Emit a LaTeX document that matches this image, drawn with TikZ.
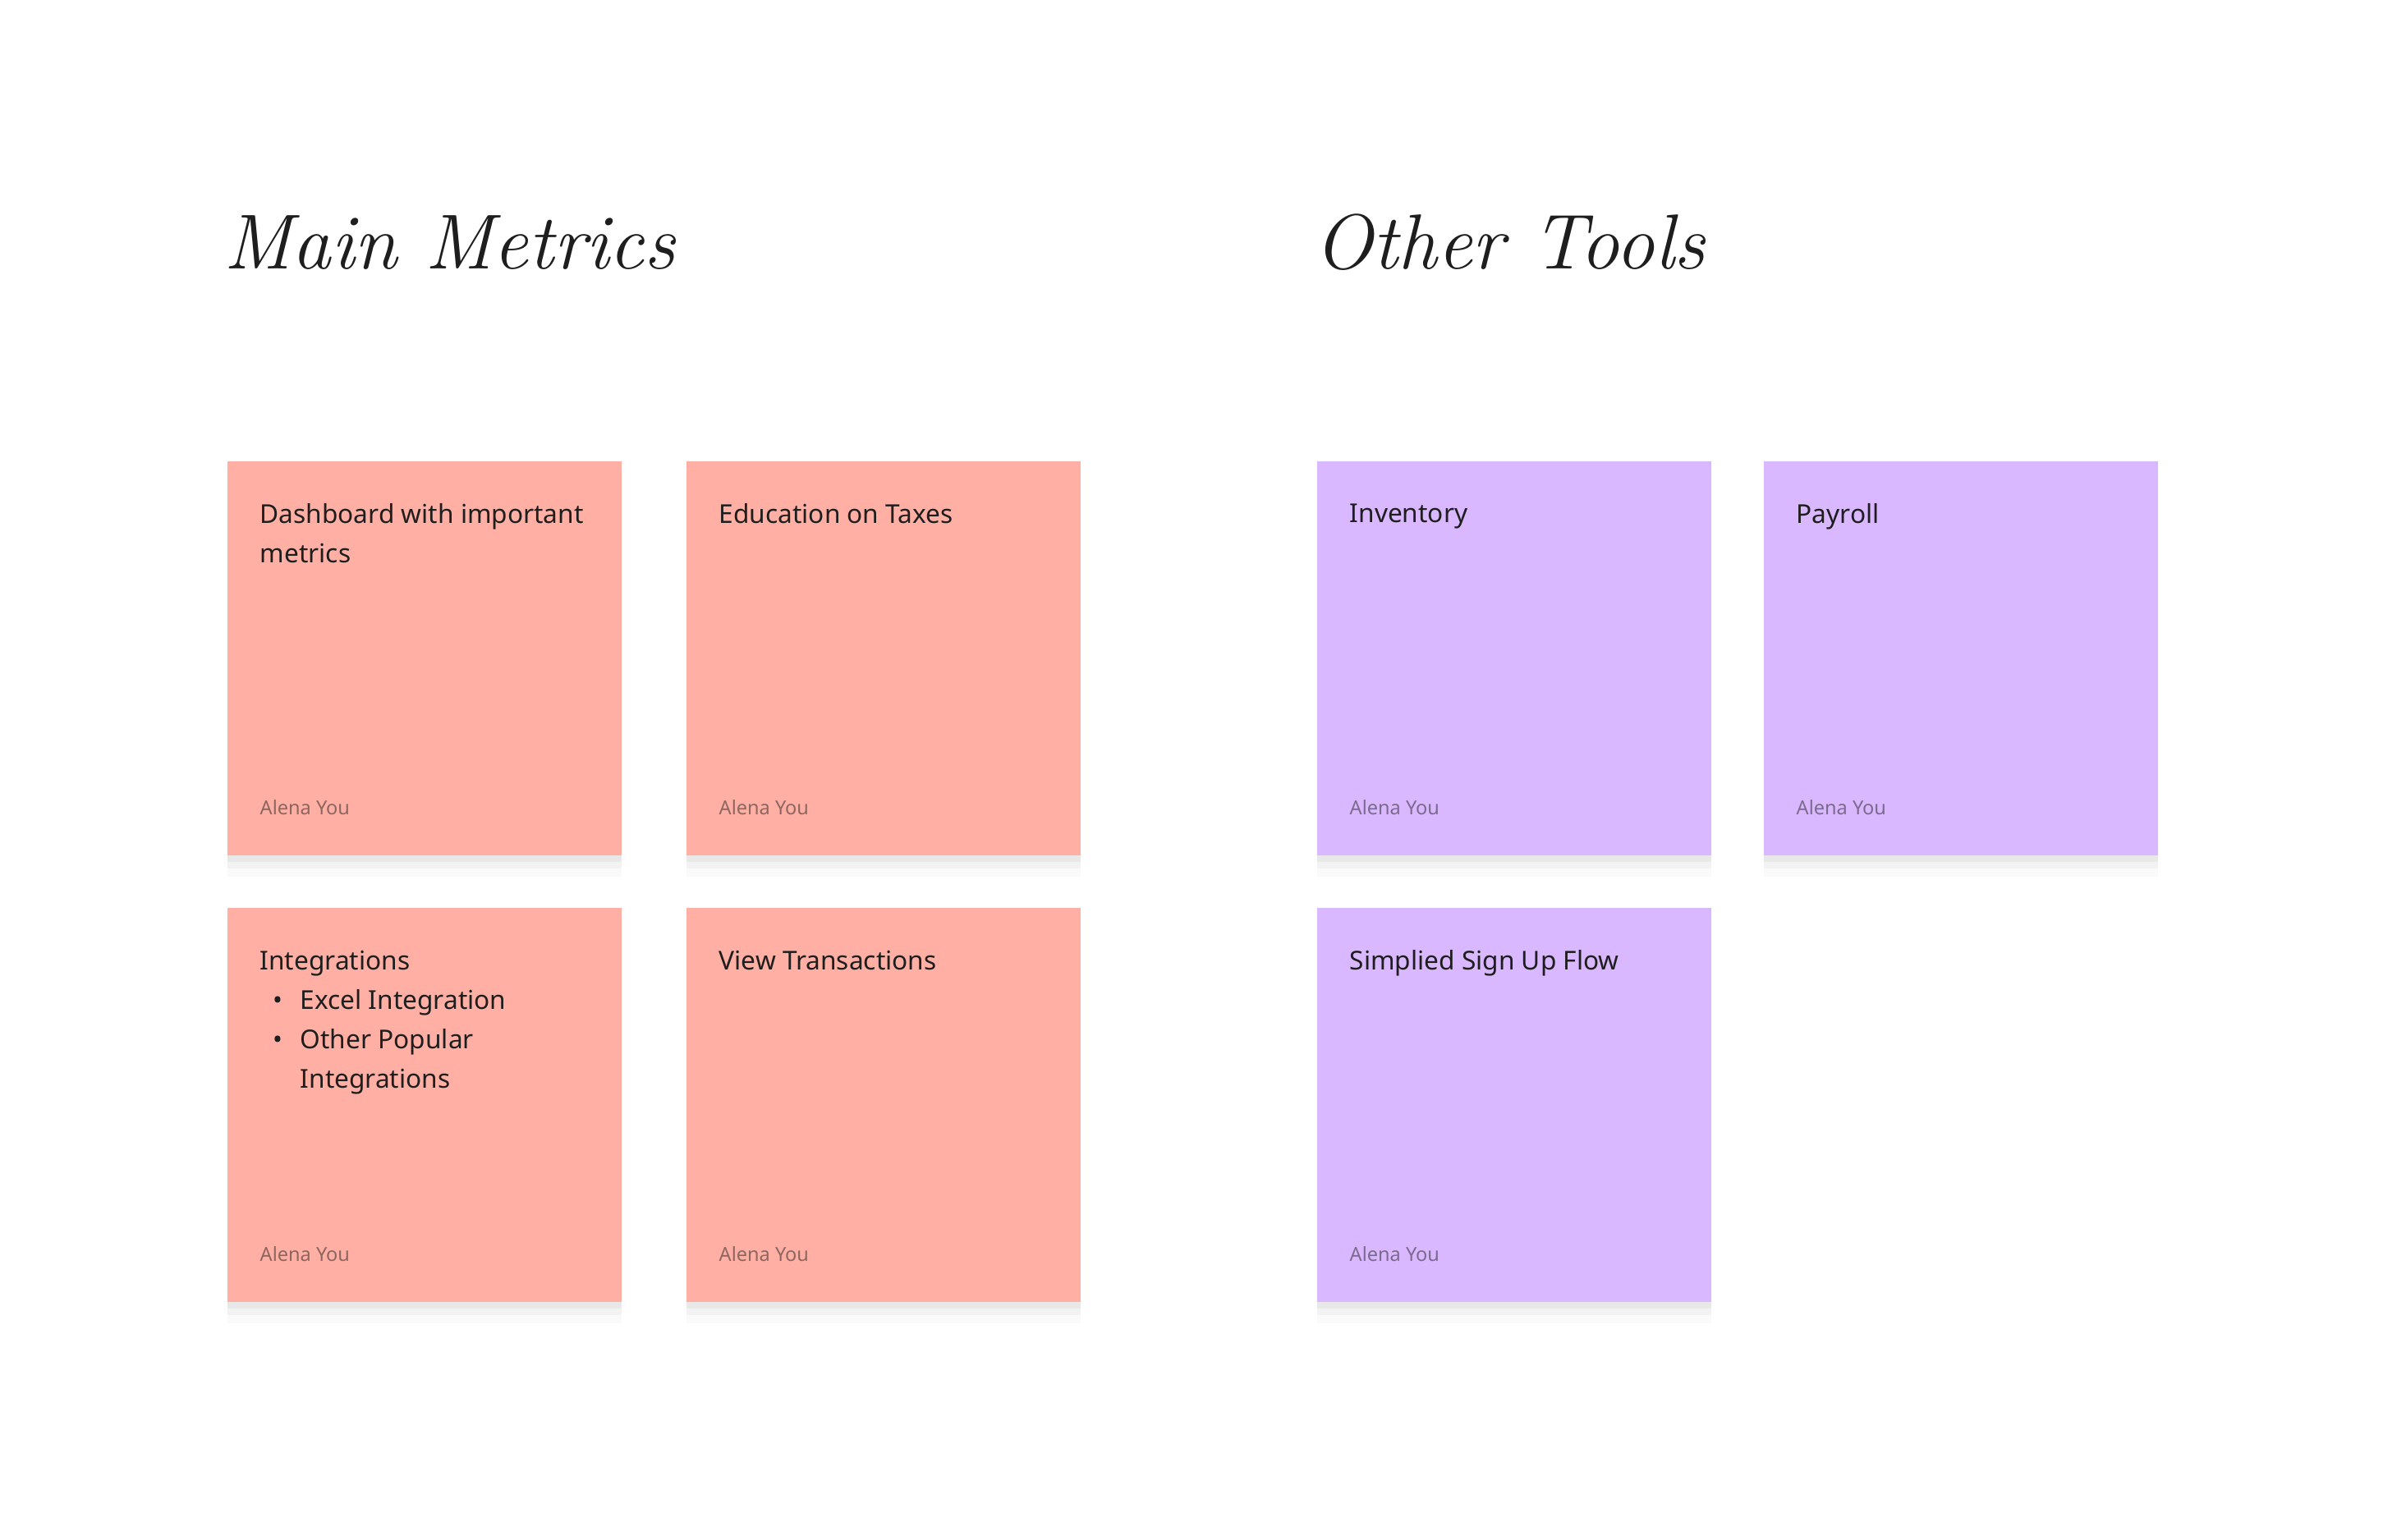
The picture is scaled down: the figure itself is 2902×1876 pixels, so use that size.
\documentclass[tikz,border=0pt]{standalone}
\usepackage{fontspec}
\newfontfamily\notefont{Noto Sans}
\definecolor{stickyred}{HTML}{FFAFA3}
\definecolor{stickyviolet}{HTML}{D9B8FF}
\definecolor{inkdark}{HTML}{1E1E1E}
\begin{document}
\begin{tikzpicture}[x=0.01cm,y=-0.01cm,
    sticky/.style={draw=none,anchor=north west,minimum width=4.8cm,minimum height=4.8cm,inner sep=0pt,
      preaction={fill=black,opacity=0.02,transform canvas={yshift=-2.6mm}},
      preaction={fill=black,opacity=0.03,transform canvas={yshift=-1.6mm}},
      preaction={fill=black,opacity=0.04,transform canvas={yshift=-0.8mm}}},
    red note/.style={sticky,fill=stickyred},
    violet note/.style={sticky,fill=stickyviolet},
    note text/.style={anchor=north west,inner sep=0pt,align=left,text=inkdark,
      font=\notefont\fontsize{9}{13.7}\selectfont},
    author/.style={anchor=base west,inner sep=0pt,text=inkdark,text opacity=0.5,
      font=\notefont\fontsize{6.7}{8}\selectfont},
    heading/.style={anchor=base west,inner sep=0pt,text=inkdark,
      font=\fontsize{27}{32}\selectfont\itshape}]
  \fill[white] (0,0) rectangle (2902,1876);
  \useasboundingbox (0,0) rectangle (2902,1876);
  % headings
  \node[heading] (mainhead) at (272,328) {Main Metrics};
  \node[heading] (otherhead) at (1600,328) {Other Tools};
  % sticky notes
  \node[red note] (dash) at (276,561) {};
  \node[red note] (taxes) at (835,561) {};
  \node[red note] (integ) at (276,1105) {};
  \node[red note] (trans) at (835,1105) {};
  \node[violet note] (inv) at (1603,561) {};
  \node[violet note] (pay) at (2147,561) {};
  \node[violet note] (signup) at (1603,1105) {};
  % note texts
  \node[note text] (dash-txt) at ([shift={(40,52)}]dash.north west) {Dashboard with important\\metrics};
  \node[note text] (taxes-txt) at ([shift={(40,52)}]taxes.north west) {Education on Taxes};
  \node[note text] (integ-txt) at ([shift={(40,52)}]integ.north west) {Integrations\\
    \makebox[4.9mm][l]{\hspace{1.6mm}\textbullet}Excel Integration\\
    \makebox[4.9mm][l]{\hspace{1.6mm}\textbullet}Other Popular\\
    \hspace*{4.9mm}Integrations};
  \node[note text] (trans-txt) at ([shift={(40,52)}]trans.north west) {View Transactions};
  \node[note text] (inv-txt) at ([shift={(40,52)}]inv.north west) {Inventory};
  \node[note text] (pay-txt) at ([shift={(40,52)}]pay.north west) {Payroll};
  \node[note text] (signup-txt) at ([shift={(40,52)}]signup.north west) {Simplied Sign Up Flow};
  \foreach \n in {dash,taxes,integ,trans,inv,pay,signup}
    \node[author] (\n-author) at ([shift={(40,431)}]\n.north west) {Alena You};
\end{tikzpicture}
\end{document}
